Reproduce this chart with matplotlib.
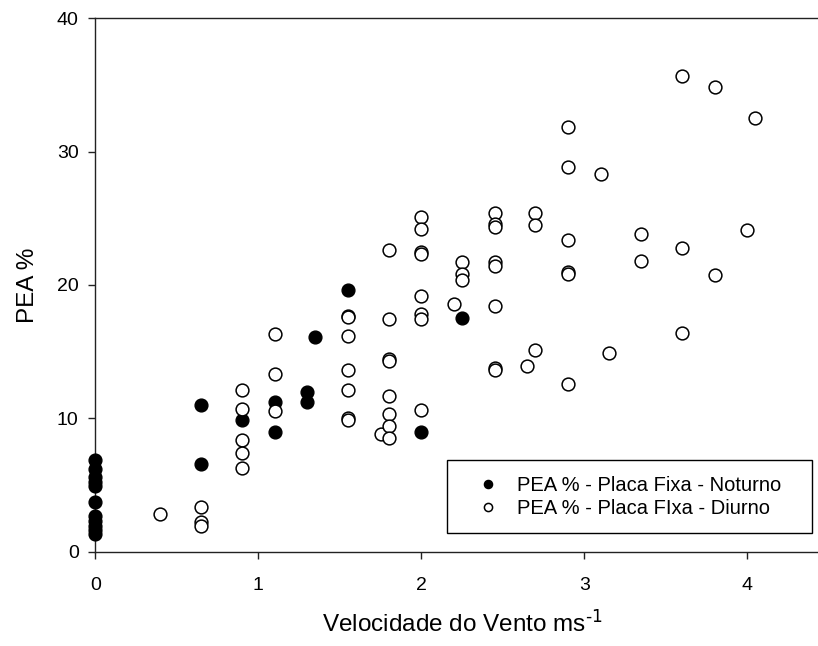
import matplotlib
matplotlib.use("Agg")
import matplotlib.pyplot as plt

plt.rcParams['font.family'] = ['Liberation Sans', 'DejaVu Sans']
plt.rcParams['mathtext.default'] = 'regular'

# PEA % - placa fixa, periodo noturno
x_noturno = [0, 0, 0, 0, 0, 0, 0, 0, 0, 0, 0,
             0.65, 0.65, 0.9, 1.1, 1.1, 1.3, 1.3, 1.35, 1.55, 2.0, 2.25]
y_noturno = [6.9, 6.2, 5.6, 5.2, 4.9, 3.7, 2.7, 2.3, 1.9, 1.6, 1.3,
             11.0, 6.6, 9.85, 11.2, 8.95, 11.95, 11.25, 16.1, 19.6, 9.0, 17.55]

# PEA % - placa fixa, periodo diurno
x_diurno = [0.4, 0.65, 0.65, 0.65,
            0.9, 0.9, 0.9, 0.9, 0.9,
            1.1, 1.1, 1.1,
            1.55, 1.55, 1.55, 1.55, 1.55, 1.55, 1.55,
            1.75,
            1.8, 1.8, 1.8, 1.8, 1.8, 1.8, 1.8, 1.8,
            2.0, 2.0, 2.0, 2.0, 2.0, 2.0, 2.0, 2.0,
            2.2, 2.25, 2.25, 2.25,
            2.45, 2.45, 2.45, 2.45, 2.45, 2.45, 2.45, 2.45,
            2.65, 2.7, 2.7, 2.7,
            2.9, 2.9, 2.9, 2.9, 2.9, 2.9,
            3.1, 3.15, 3.35, 3.35,
            3.6, 3.6, 3.6, 3.8, 3.8, 4.0, 4.05]
y_diurno = [2.8, 3.35, 2.25, 1.9,
            12.15, 10.7, 8.4, 7.4, 6.25,
            16.3, 13.3, 10.55,
            17.7, 17.6, 16.15, 13.6, 12.15, 10.0, 9.85,
            8.85,
            22.6, 17.45, 14.45, 14.3, 11.7, 10.3, 9.45, 8.55,
            25.1, 24.2, 22.45, 22.35, 19.2, 17.8, 17.45, 10.6,
            18.6, 21.75, 20.8, 20.35,
            25.4, 24.55, 24.35, 21.75, 21.4, 18.45, 13.75, 13.6,
            13.9, 25.4, 24.5, 15.15,
            31.85, 28.85, 23.35, 21.0, 20.85, 12.6,
            28.35, 14.9, 23.8, 21.8,
            35.7, 22.8, 16.4, 34.85, 20.75, 24.1, 32.55]

fig = plt.figure(figsize=(8.18, 6.46), dpi=100)
ax = fig.add_axes([0.1165, 0.146, 0.8967, 0.8257])

ax.plot(x_noturno, y_noturno, 'o', ms=9.2, mfc='black', mec='black', mew=1.0,
        label='PEA % - Placa Fixa - Noturno', clip_on=False, zorder=3)
ax.plot(x_diurno, y_diurno, 'o', ms=9.2, mfc='white', mec='black', mew=1.1,
        label='PEA % - Placa FIxa - Diurno', clip_on=False, zorder=3)

ax.set_xlim(0, 4.5)
ax.set_ylim(0, 40)
ax.set_xticks([0, 1, 2, 3, 4])
ax.set_yticks([0, 10, 20, 30, 40])

for s in ax.spines.values():
    s.set_linewidth(1.0)
    s.set_color('#222222')

ax.tick_params(axis='both', direction='out', length=5, width=1.0,
               color='#222222', labelsize=14, top=False, right=False)
ax.tick_params(axis='x', pad=13)
ax.tick_params(axis='y', pad=7)

ax.set_xlabel(r'Velocidade do Vento ms$^{\text{-1}}$', fontsize=17.5, labelpad=12)
ax.set_ylabel('PEA %', fontsize=17.5, labelpad=13)

leg = ax.legend(loc='lower left', bbox_to_anchor=(0.479, 0.0356, 0.4976, 0.152),
                mode='expand', borderaxespad=0, fontsize=14.5, markerscale=0.64,
                fancybox=False, edgecolor='black', framealpha=1,
                borderpad=0.75, labelspacing=0.2, handlelength=2.6,
                handletextpad=0.15)
leg.get_frame().set_linewidth(1.0)
leg.set_zorder(5)

fig.savefig('out.png', dpi=100)
